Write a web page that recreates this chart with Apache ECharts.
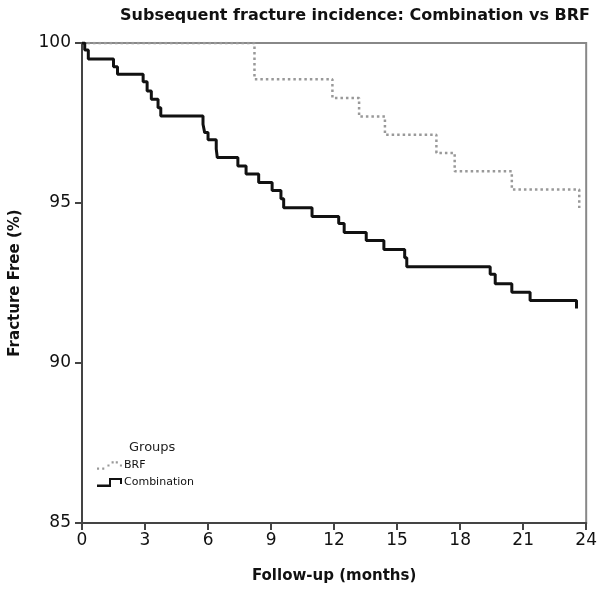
<!DOCTYPE html>
<html>
<head>
<meta charset="utf-8">
<script src="https://cdn.jsdelivr.net/npm/echarts@6/dist/echarts.min.js"></script>
<style>
html,body{margin:0;padding:0;background:#fff;}
#chart{width:600px;height:589px;}
</style>
</head>
<body>
<div id="chart"></div>
<script>
// Kaplan-Meier step data (month, % fracture free after the drop)
const combMonths = [0, 0.13, 0.30, 1.50, 1.69, 2.91, 3.10, 3.30, 3.62, 3.75, 5.76, 5.84, 6.00, 6.39, 6.44, 7.42, 7.81, 8.41, 9.05, 9.47, 9.60, 10.95, 12.22, 12.48, 13.53, 14.37, 15.36, 15.46, 19.43, 19.67, 20.46, 21.33, 23.54];
const combValues = [100, 99.78, 99.50, 99.26, 99.02, 98.79, 98.50, 98.24, 97.98, 97.72, 97.46, 97.20, 96.98, 96.69, 96.42, 96.16, 95.91, 95.64, 95.39, 95.13, 94.85, 94.58, 94.36, 94.08, 93.83, 93.55, 93.29, 93.01, 92.77, 92.48, 92.21, 91.95, 91.70];
const brfMonths = [0, 8.21, 11.92, 13.19, 14.42, 16.87, 17.74, 20.46, 23.67];
const brfValues = [100, 98.87, 98.28, 97.70, 97.13, 96.56, 95.99, 95.42, 94.84];
const xTicks = [0, 3, 6, 9, 12, 15, 18, 21, 24];
const yTicks = [85, 90, 95, 100];
const groupNames = ['BRF', 'Combination'];

const FONT = 'DejaVu Sans';
const chart = echarts.init(document.getElementById('chart'), null, {renderer: 'canvas'});

const brfIcon = 'path://M1,7h2v2h-2z M6,7h2v2h-2z M11,4h2v2h-2z M15,1h2v2h-2z M19,1h2v2h-2z M23,4h2v2h-2z';
const combIcon = 'path://M0,6.5H12V0H25V6H23V2H14V9H0Z';

chart.setOption({
  animation: false,
  backgroundColor: '#fff',
  title: [{
    text: 'Subsequent fracture incidence: Combination vs BRF',
    left: 350, top: 3, textAlign: 'center',
    textStyle: {fontFamily: FONT, fontSize: 16, fontWeight: 'bold', color: '#111'}
  }, {
    text: 'Groups',
    left: 124, top: 436,
    textStyle: {fontFamily: FONT, fontSize: 13, fontWeight: 'normal', color: '#222'}
  }],
  legend: {
    orient: 'vertical',
    left: 97, top: 460,
    itemWidth: 25, itemHeight: 9, itemGap: 6,
    padding: 0,
    textStyle: {fontFamily: FONT, fontSize: 11, color: '#111', padding: [0, 0, 0, -3]},
    itemStyle: {borderWidth: 0},
    data: [
      {name: groupNames[0], icon: brfIcon, itemStyle: {color: '#999'}},
      {name: groupNames[1], icon: combIcon, itemStyle: {color: '#111'}}
    ]
  },
  grid: {
    left: 82, right: 12, top: 43, bottom: 65,
    show: true, borderColor: '#888', borderWidth: 2, backgroundColor: '#fff'
  },
  xAxis: {
    type: 'value', min: xTicks[0], max: xTicks[xTicks.length - 1], interval: 3,
    name: 'Follow-up (months)', nameLocation: 'middle', nameGap: 46,
    nameTextStyle: {fontFamily: FONT, fontSize: 15, fontWeight: 'bold', color: '#111'},
    axisLine: {lineStyle: {color: '#444', width: 2}},
    axisTick: {length: 7, lineStyle: {color: '#444', width: 2}},
    axisLabel: {fontFamily: FONT, fontSize: 17, color: '#111', margin: 9},
    splitLine: {show: false}
  },
  yAxis: {
    type: 'value', min: yTicks[0], max: yTicks[yTicks.length - 1], interval: 5,
    name: 'Fracture Free (%)', nameLocation: 'middle', nameGap: 59,
    nameTextStyle: {fontFamily: FONT, fontSize: 15, fontWeight: 'bold', color: '#111'},
    axisLine: {show: true, lineStyle: {color: '#444', width: 2}},
    axisTick: {show: true, length: 7, lineStyle: {color: '#444', width: 2}},
    axisLabel: {fontFamily: FONT, fontSize: 17, color: '#111', margin: 11},
    splitLine: {show: false}
  },
  series: [{
    name: groupNames[0],
    type: 'line', step: 'end', showSymbol: false, z: 3,
    data: brfMonths.map((m, i) => [m, brfValues[i]]),
    lineStyle: {color: '#999', width: 2.5, type: [2.5, 3], cap: 'butt'},
    itemStyle: {color: '#999'}
  }, {
    name: groupNames[1],
    type: 'line', step: 'end', showSymbol: false, z: 4,
    data: combMonths.map((m, i) => [m, combValues[i]]),
    lineStyle: {color: '#111', width: 3},
    itemStyle: {color: '#111'}
  }]
});
</script>
</body>
</html>
